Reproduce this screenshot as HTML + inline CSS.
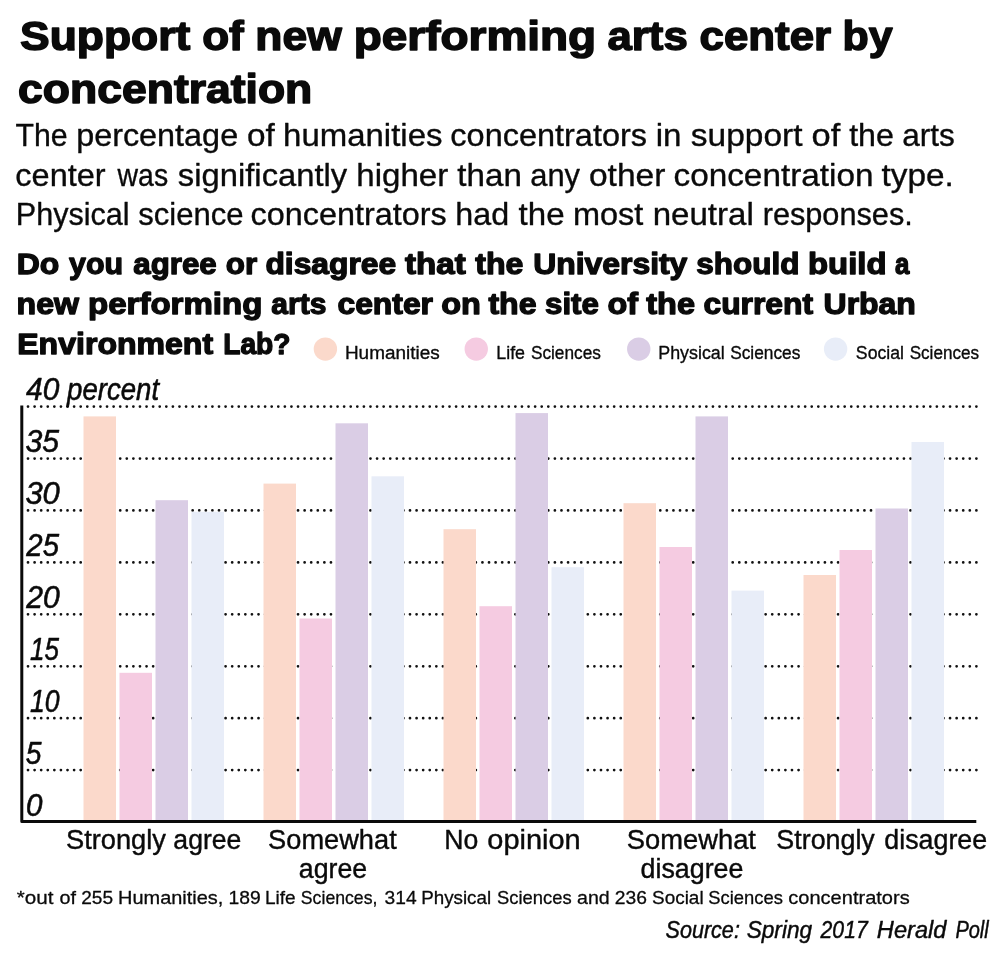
<!DOCTYPE html>
<html lang="en"><head><meta charset="utf-8"><title>Support of new performing arts center by concentration</title>
<style>html,body{margin:0;padding:0;background:#fff}svg{display:block;will-change:transform}text{font-family:"Liberation Sans", sans-serif;fill:#0a0a0a;stroke:#0a0a0a;stroke-linejoin:round}.b{font-weight:bold}.i{font-style:italic}</style>
</head><body>
<svg width="1000" height="953" viewBox="0 0 1000 953">
<rect width="1000" height="953" fill="#ffffff" stroke="none"/>
<circle cx="325.40" cy="349.1" r="11.7" fill="#fbd9cb"/>
<circle cx="476.25" cy="349.1" r="11.7" fill="#f5cbe1"/>
<circle cx="638.75" cy="349.1" r="11.7" fill="#dacde5"/>
<circle cx="835.60" cy="349.1" r="11.7" fill="#e8edf8"/>
<g stroke="#111" stroke-width="2.75" stroke-linecap="round" stroke-dasharray="0 6.586" fill="none">
<path d="M28.00 770.11H976.88"/>
<path d="M28.00 718.18H976.88"/>
<path d="M28.00 666.25H976.88"/>
<path d="M28.00 614.32H976.88"/>
<path d="M28.00 562.39H976.88"/>
<path d="M28.00 510.46H976.88"/>
<path d="M28.00 458.53H976.88"/>
<path d="M28.00 406.60H976.88"/>
</g>
<rect x="83.50" y="416.40" width="32.50" height="405.20" fill="#fbd9cb"/>
<rect x="119.50" y="672.80" width="32.50" height="148.80" fill="#f5cbe1"/>
<rect x="155.50" y="500.20" width="32.50" height="321.40" fill="#dacde5"/>
<rect x="191.50" y="511.80" width="32.50" height="309.80" fill="#e8edf8"/>
<rect x="263.50" y="483.60" width="32.50" height="338.00" fill="#fbd9cb"/>
<rect x="299.50" y="618.50" width="32.50" height="203.10" fill="#f5cbe1"/>
<rect x="335.50" y="423.30" width="32.50" height="398.30" fill="#dacde5"/>
<rect x="371.50" y="476.30" width="32.50" height="345.30" fill="#e8edf8"/>
<rect x="443.50" y="529.20" width="32.50" height="292.40" fill="#fbd9cb"/>
<rect x="479.50" y="606.20" width="32.50" height="215.40" fill="#f5cbe1"/>
<rect x="515.50" y="413.10" width="32.50" height="408.50" fill="#dacde5"/>
<rect x="551.50" y="567.20" width="32.50" height="254.40" fill="#e8edf8"/>
<rect x="623.50" y="503.20" width="32.50" height="318.40" fill="#fbd9cb"/>
<rect x="659.50" y="547.00" width="32.50" height="274.60" fill="#f5cbe1"/>
<rect x="695.50" y="416.40" width="32.50" height="405.20" fill="#dacde5"/>
<rect x="731.50" y="590.60" width="32.50" height="231.00" fill="#e8edf8"/>
<rect x="803.50" y="575.00" width="32.50" height="246.60" fill="#fbd9cb"/>
<rect x="839.50" y="550.00" width="32.50" height="271.60" fill="#f5cbe1"/>
<rect x="875.50" y="508.50" width="32.50" height="313.10" fill="#dacde5"/>
<rect x="911.50" y="442.00" width="32.50" height="379.60" fill="#e8edf8"/>
<path d="M21.80 405.6V821.60H976.3" fill="none" stroke="#0a0a0a" stroke-width="3" stroke-linejoin="round"/>
<text y="49.60" font-size="41.00" stroke-width="1.50" class="b"><tspan x="20.06" textLength="170.21" lengthAdjust="spacingAndGlyphs">Support</tspan> <tspan x="202.17" textLength="41.60" lengthAdjust="spacingAndGlyphs">of</tspan> <tspan x="255.38" textLength="86.32" lengthAdjust="spacingAndGlyphs">new</tspan> <tspan x="353.68" textLength="242.51" lengthAdjust="spacingAndGlyphs">performing</tspan> <tspan x="607.57" textLength="80.15" lengthAdjust="spacingAndGlyphs">arts</tspan> <tspan x="699.58" textLength="131.54" lengthAdjust="spacingAndGlyphs">center</tspan> <tspan x="842.56" textLength="50.16" lengthAdjust="spacingAndGlyphs">by</tspan></text>
<text y="102.80" font-size="41.00" stroke-width="1.50" class="b"><tspan x="18.11" textLength="294.19" lengthAdjust="spacingAndGlyphs">concentration</tspan></text>
<text y="146.20" font-size="32.00" stroke-width="0.35"><tspan x="15.50" textLength="52.15" lengthAdjust="spacingAndGlyphs">The</tspan> <tspan x="76.15" textLength="161.99" lengthAdjust="spacingAndGlyphs">percentage</tspan> <tspan x="246.93" textLength="27.78" lengthAdjust="spacingAndGlyphs">of</tspan> <tspan x="283.12" textLength="159.34" lengthAdjust="spacingAndGlyphs">humanities</tspan> <tspan x="450.36" textLength="196.68" lengthAdjust="spacingAndGlyphs">concentrators</tspan> <tspan x="655.70" textLength="25.78" lengthAdjust="spacingAndGlyphs">in</tspan> <tspan x="690.85" textLength="111.66" lengthAdjust="spacingAndGlyphs">support</tspan> <tspan x="811.50" textLength="28.71" lengthAdjust="spacingAndGlyphs">of</tspan> <tspan x="849.17" textLength="44.75" lengthAdjust="spacingAndGlyphs">the</tspan> <tspan x="902.19" textLength="52.62" lengthAdjust="spacingAndGlyphs">arts</tspan></text>
<text y="185.70" font-size="32.00" stroke-width="0.35"><tspan x="15.36" textLength="90.22" lengthAdjust="spacingAndGlyphs">center</tspan> <tspan x="117.62" textLength="50.49" lengthAdjust="spacingAndGlyphs">was</tspan> <tspan x="177.86" textLength="169.36" lengthAdjust="spacingAndGlyphs">significantly</tspan> <tspan x="356.31" textLength="91.88" lengthAdjust="spacingAndGlyphs">higher</tspan> <tspan x="457.38" textLength="64.51" lengthAdjust="spacingAndGlyphs">than</tspan> <tspan x="530.21" textLength="49.82" lengthAdjust="spacingAndGlyphs">any</tspan> <tspan x="588.93" textLength="76.46" lengthAdjust="spacingAndGlyphs">other</tspan> <tspan x="673.53" textLength="199.96" lengthAdjust="spacingAndGlyphs">concentration</tspan> <tspan x="881.57" textLength="72.26" lengthAdjust="spacingAndGlyphs">type.</tspan></text>
<text y="225.30" font-size="32.00" stroke-width="0.35"><tspan x="15.79" textLength="113.85" lengthAdjust="spacingAndGlyphs">Physical</tspan> <tspan x="138.29" textLength="105.19" lengthAdjust="spacingAndGlyphs">science</tspan> <tspan x="250.56" textLength="196.07" lengthAdjust="spacingAndGlyphs">concentrators</tspan> <tspan x="455.36" textLength="53.88" lengthAdjust="spacingAndGlyphs">had</tspan> <tspan x="518.57" textLength="45.99" lengthAdjust="spacingAndGlyphs">the</tspan> <tspan x="572.95" textLength="70.37" lengthAdjust="spacingAndGlyphs">most</tspan> <tspan x="652.71" textLength="101.10" lengthAdjust="spacingAndGlyphs">neutral</tspan> <tspan x="762.66" textLength="150.14" lengthAdjust="spacingAndGlyphs">responses.</tspan></text>
<text y="274.35" font-size="29.50" stroke-width="1.30" class="b"><tspan x="16.66" textLength="42.54" lengthAdjust="spacingAndGlyphs">Do</tspan> <tspan x="69.05" textLength="54.04" lengthAdjust="spacingAndGlyphs">you</tspan> <tspan x="133.36" textLength="83.37" lengthAdjust="spacingAndGlyphs">agree</tspan> <tspan x="225.87" textLength="31.32" lengthAdjust="spacingAndGlyphs">or</tspan> <tspan x="265.46" textLength="130.68" lengthAdjust="spacingAndGlyphs">disagree</tspan> <tspan x="405.05" textLength="60.66" lengthAdjust="spacingAndGlyphs">that</tspan> <tspan x="475.25" textLength="48.10" lengthAdjust="spacingAndGlyphs">the</tspan> <tspan x="533.16" textLength="154.19" lengthAdjust="spacingAndGlyphs">University</tspan> <tspan x="696.27" textLength="103.10" lengthAdjust="spacingAndGlyphs">should</tspan> <tspan x="808.00" textLength="78.45" lengthAdjust="spacingAndGlyphs">build</tspan> <tspan x="895.00" textLength="14.39" lengthAdjust="spacingAndGlyphs">a</tspan></text>
<text y="314.35" font-size="29.50" stroke-width="1.30" class="b"><tspan x="16.64" textLength="62.40" lengthAdjust="spacingAndGlyphs">new</tspan> <tspan x="87.98" textLength="174.48" lengthAdjust="spacingAndGlyphs">performing</tspan> <tspan x="271.38" textLength="54.98" lengthAdjust="spacingAndGlyphs">arts</tspan> <tspan x="337.46" textLength="95.55" lengthAdjust="spacingAndGlyphs">center</tspan> <tspan x="441.23" textLength="39.69" lengthAdjust="spacingAndGlyphs">on</tspan> <tspan x="488.45" textLength="48.10" lengthAdjust="spacingAndGlyphs">the</tspan> <tspan x="545.07" textLength="53.85" lengthAdjust="spacingAndGlyphs">site</tspan> <tspan x="607.44" textLength="30.56" lengthAdjust="spacingAndGlyphs">of</tspan> <tspan x="646.25" textLength="48.71" lengthAdjust="spacingAndGlyphs">the</tspan> <tspan x="703.46" textLength="109.65" lengthAdjust="spacingAndGlyphs">current</tspan> <tspan x="823.55" textLength="92.34" lengthAdjust="spacingAndGlyphs">Urban</tspan></text>
<text y="353.95" font-size="29.50" stroke-width="1.30" class="b"><tspan x="17.25" textLength="195.86" lengthAdjust="spacingAndGlyphs">Environment</tspan> <tspan x="223.29" textLength="67.22" lengthAdjust="spacingAndGlyphs">Lab?</tspan></text>
<text y="358.50" font-size="19.20" stroke-width="0.35"><tspan x="344.95" textLength="94.72" lengthAdjust="spacingAndGlyphs">Humanities</tspan></text>
<text y="358.50" font-size="19.20" stroke-width="0.35"><tspan x="496.28" textLength="28.77" lengthAdjust="spacingAndGlyphs">Life</tspan> <tspan x="530.89" textLength="69.98" lengthAdjust="spacingAndGlyphs">Sciences</tspan></text>
<text y="358.50" font-size="19.20" stroke-width="0.35"><tspan x="658.28" textLength="66.47" lengthAdjust="spacingAndGlyphs">Physical</tspan> <tspan x="730.13" textLength="70.23" lengthAdjust="spacingAndGlyphs">Sciences</tspan></text>
<text y="358.50" font-size="19.20" stroke-width="0.35"><tspan x="855.87" textLength="48.12" lengthAdjust="spacingAndGlyphs">Social</tspan> <tspan x="909.64" textLength="69.47" lengthAdjust="spacingAndGlyphs">Sciences</tspan></text>
<text y="400.30" font-size="31.00" stroke-width="0.55" class="i"><tspan x="26.07" textLength="33.26" lengthAdjust="spacingAndGlyphs">40</tspan> <tspan x="67.04" textLength="92.03" lengthAdjust="spacingAndGlyphs">percent</tspan></text>
<text y="849.00" font-size="27.00" stroke-width="0.40"><tspan x="65.95" textLength="100.05" lengthAdjust="spacingAndGlyphs">Strongly</tspan> <tspan x="173.37" textLength="68.01" lengthAdjust="spacingAndGlyphs">agree</tspan></text>
<text y="849.00" font-size="27.00" stroke-width="0.40"><tspan x="268.10" textLength="128.61" lengthAdjust="spacingAndGlyphs">Somewhat</tspan></text>
<text y="877.60" font-size="27.00" stroke-width="0.40"><tspan x="298.87" textLength="68.27" lengthAdjust="spacingAndGlyphs">agree</tspan></text>
<text y="849.00" font-size="27.00" stroke-width="0.40"><tspan x="444.37" textLength="34.01" lengthAdjust="spacingAndGlyphs">No</tspan> <tspan x="487.30" textLength="93.38" lengthAdjust="spacingAndGlyphs">opinion</tspan></text>
<text y="849.00" font-size="27.00" stroke-width="0.40"><tspan x="626.85" textLength="129.11" lengthAdjust="spacingAndGlyphs">Somewhat</tspan></text>
<text y="877.60" font-size="27.00" stroke-width="0.40"><tspan x="640.61" textLength="102.77" lengthAdjust="spacingAndGlyphs">disagree</tspan></text>
<text y="849.00" font-size="27.00" stroke-width="0.40"><tspan x="776.36" textLength="98.44" lengthAdjust="spacingAndGlyphs">Strongly</tspan> <tspan x="884.36" textLength="102.77" lengthAdjust="spacingAndGlyphs">disagree</tspan></text>
<text y="904.20" font-size="19.00" stroke-width="0.30"><tspan x="16.83" textLength="36.70" lengthAdjust="spacingAndGlyphs">*out</tspan> <tspan x="59.53" textLength="16.50" lengthAdjust="spacingAndGlyphs">of</tspan> <tspan x="81.25" textLength="31.87" lengthAdjust="spacingAndGlyphs">255</tspan> <tspan x="118.09" textLength="105.25" lengthAdjust="spacingAndGlyphs">Humanities,</tspan> <tspan x="228.44" textLength="32.19" lengthAdjust="spacingAndGlyphs">189</tspan> <tspan x="264.91" textLength="30.71" lengthAdjust="spacingAndGlyphs">Life</tspan> <tspan x="300.85" textLength="76.57" lengthAdjust="spacingAndGlyphs">Sciences,</tspan> <tspan x="384.55" textLength="32.03" lengthAdjust="spacingAndGlyphs">314</tspan> <tspan x="421.18" textLength="69.90" lengthAdjust="spacingAndGlyphs">Physical</tspan> <tspan x="497.08" textLength="74.60" lengthAdjust="spacingAndGlyphs">Sciences</tspan> <tspan x="577.04" textLength="32.66" lengthAdjust="spacingAndGlyphs">and</tspan> <tspan x="614.75" textLength="32.13" lengthAdjust="spacingAndGlyphs">236</tspan> <tspan x="652.06" textLength="51.54" lengthAdjust="spacingAndGlyphs">Social</tspan> <tspan x="708.33" textLength="74.60" lengthAdjust="spacingAndGlyphs">Sciences</tspan> <tspan x="788.27" textLength="121.45" lengthAdjust="spacingAndGlyphs">concentrators</tspan></text>
<text y="938.30" font-size="24.50" stroke-width="0.45" class="i"><tspan x="665.49" textLength="74.39" lengthAdjust="spacingAndGlyphs">Source:</tspan> <tspan x="746.67" textLength="65.46" lengthAdjust="spacingAndGlyphs">Spring</tspan> <tspan x="820.56" textLength="47.17" lengthAdjust="spacingAndGlyphs">2017</tspan> <tspan x="876.86" textLength="69.53" lengthAdjust="spacingAndGlyphs">Herald</tspan> <tspan x="955.41" textLength="33.31" lengthAdjust="spacingAndGlyphs">Poll</tspan></text>
<text y="452.03" font-size="31.00" stroke-width="0.55" class="i"><tspan x="25.40" textLength="33.63" lengthAdjust="spacingAndGlyphs">35</tspan></text>
<text y="503.96" font-size="31.00" stroke-width="0.55" class="i"><tspan x="25.39" textLength="34.44" lengthAdjust="spacingAndGlyphs">30</tspan></text>
<text y="555.89" font-size="31.00" stroke-width="0.55" class="i"><tspan x="26.33" textLength="32.70" lengthAdjust="spacingAndGlyphs">25</tspan></text>
<text y="607.82" font-size="31.00" stroke-width="0.55" class="i"><tspan x="26.35" textLength="33.49" lengthAdjust="spacingAndGlyphs">20</tspan></text>
<text y="659.75" font-size="31.00" stroke-width="0.55" class="i"><tspan x="30.07" textLength="28.99" lengthAdjust="spacingAndGlyphs">15</tspan></text>
<text y="711.68" font-size="31.00" stroke-width="0.55" class="i"><tspan x="30.06" textLength="29.60" lengthAdjust="spacingAndGlyphs">10</tspan></text>
<text y="763.61" font-size="31.00" stroke-width="0.55" class="i"><tspan x="25.83" textLength="15.71" lengthAdjust="spacingAndGlyphs">5</tspan></text>
<text y="815.54" font-size="31.00" stroke-width="0.55" class="i"><tspan x="25.95" textLength="16.49" lengthAdjust="spacingAndGlyphs">0</tspan></text>
</svg>
</body></html>
